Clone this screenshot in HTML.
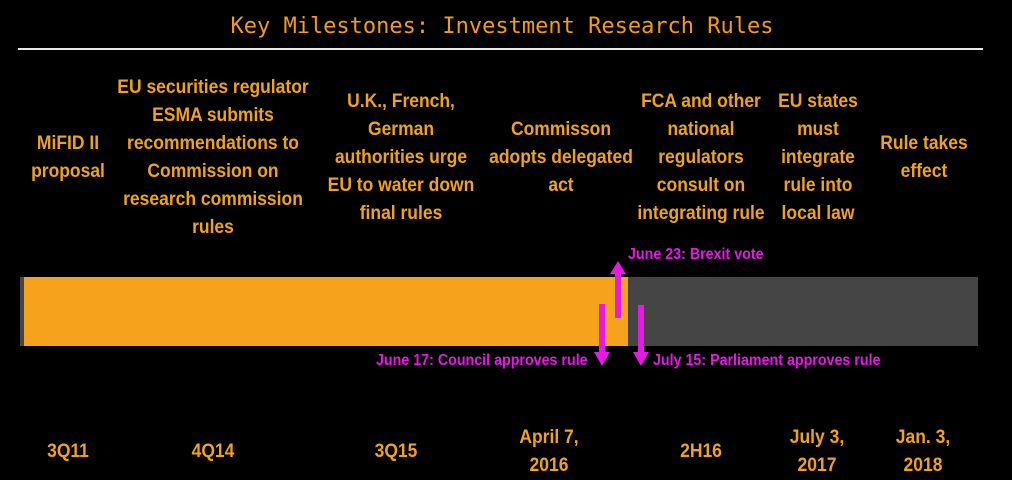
<!DOCTYPE html>
<html><head><meta charset="utf-8"><style>
body{margin:0;width:1012px;height:479px;background:#000;position:relative;overflow:hidden;font-family:"Liberation Sans",sans-serif}
.t{position:absolute;left:-4px;width:1012px;top:14px;text-align:center;color:#f39a1e;font-family:"DejaVu Sans Mono",monospace;font-size:22px}
.hr{position:absolute;left:18px;width:965px;top:48px;height:2px;background:#e8e8e8}
.c{position:absolute;width:300px;margin-left:-150px;display:flex;align-items:center;justify-content:center;text-align:center;color:#eea21f;font-weight:bold;font-size:19px;line-height:28px;transform:scaleX(0.92)}
.top{top:74px;height:168px}
.bot{top:424px;height:56px}
.m{position:absolute;color:#e619e6;font-weight:bold;font-size:15.5px;transform:scaleX(0.92);transform-origin:left center;white-space:nowrap}
</style></head><body>
<div class="t">Key Milestones: Investment Research Rules</div>
<div class="hr"></div>
<div class="c top" style="left:68px">MiFID II<br>proposal</div>
<div class="c top" style="left:213px">EU securities regulator<br>ESMA submits<br>recommendations to<br>Commission on<br>research commission<br>rules</div>
<div class="c top" style="left:401px">U.K., French,<br>German<br>authorities urge<br>EU to water down<br>final rules</div>
<div class="c top" style="left:561px">Commisson<br>adopts delegated<br>act</div>
<div class="c top" style="left:701px">FCA and other<br>national<br>regulators<br>consult on<br>integrating rule</div>
<div class="c top" style="left:818px">EU states<br>must<br>integrate<br>rule into<br>local law</div>
<div class="c top" style="left:924px">Rule takes<br>effect</div>

<div class="c bot" style="left:68px">3Q11</div>
<div class="c bot" style="left:213px">4Q14</div>
<div class="c bot" style="left:396px">3Q15</div>
<div class="c bot" style="left:549px">April 7,<br>2016</div>
<div class="c bot" style="left:701px">2H16</div>
<div class="c bot" style="left:817px">July 3,<br>2017</div>
<div class="c bot" style="left:923px">Jan. 3,<br>2018</div>

<div style="position:absolute;left:20px;top:277px;width:958px;height:69px;background:#454545"></div>
<div style="position:absolute;left:24px;top:277px;width:604px;height:69px;background:#f6a21c"></div>

<svg style="position:absolute;left:0;top:0" width="1012" height="479">
<g fill="#e619e6">
<rect x="599" y="304" width="6" height="50"/><polygon points="594,352 610,352 602,366"/>
<rect x="615" y="272" width="6" height="46"/><polygon points="610,274 626,274 618,261"/>
<rect x="638" y="305" width="6" height="49"/><polygon points="633,352 649,352 641,366"/>
</g></svg>
<div class="m" style="left:628px;top:246px">June 23: Brexit vote</div>
<div class="m" style="left:376px;top:352px">June 17: Council approves rule</div>
<div class="m" style="left:653px;top:352px">July 15: Parliament approves rule</div>
</body></html>
